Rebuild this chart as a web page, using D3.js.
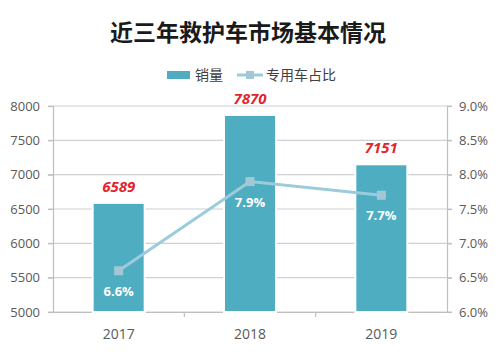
<!DOCTYPE html>
<html><head><meta charset="utf-8">
<script src="https://cdn.jsdelivr.net/npm/d3@7"></script>
<style>body{margin:0;background:#fff}svg{display:block}</style>
</head><body>
<svg id="c" width="500" height="357"></svg>
<script>
const categories = ["2017", "2018", "2019"];
const sales = [6589, 7870, 7151];
const share = [6.6, 7.9, 7.7];
const leftTicks = [5000, 5500, 6000, 6500, 7000, 7500, 8000];
const rightTicks = [6.0, 6.5, 7.0, 7.5, 8.0, 8.5, 9.0];

const svg = d3.select("#c");
const m = {l: 53, r: 447, t: 106, b: 312};
const font = "'Open Sans','Noto Sans CJK SC',sans-serif";
const cjk = "'Noto Sans CJK SC','Noto Sans',sans-serif";

const x = d3.scaleBand().domain(categories).range([m.l, m.r]).paddingInner(0).paddingOuter(0);
const yL = d3.scaleLinear().domain([5000, 8000]).range([m.b, m.t]);
const yR = d3.scaleLinear().domain([6.0, 9.0]).range([m.b, m.t]);

// title
svg.append("text").attr("x", 248).attr("y", 41).attr("text-anchor", "middle")
  .attr("font-family", cjk).attr("font-weight", "bold").attr("font-size", 23)
  .attr("fill", "#1a1a1a").text("近三年救护车市场基本情况");

// legend
const lg = svg.append("g");
lg.append("rect").attr("x", 167).attr("y", 71).attr("width", 23).attr("height", 8).attr("fill", "#4FADC2");
lg.append("text").attr("x", 195).attr("y", 80).attr("font-family", cjk).attr("font-size", 14).attr("fill", "#404040").text("销量");
lg.append("line").attr("x1", 237).attr("x2", 263).attr("y1", 75).attr("y2", 75).attr("stroke", "#9CCBDB").attr("stroke-width", 3);
lg.append("rect").attr("x", 246).attr("y", 71).attr("width", 8).attr("height", 8).attr("fill", "#A3C8D5");
lg.append("text").attr("x", 266).attr("y", 80).attr("font-family", cjk).attr("font-size", 14).attr("fill", "#404040").text("专用车占比");

// grid
svg.append("g").selectAll("line").data(leftTicks).join("line")
  .attr("x1", m.l - 5).attr("x2", m.r + 5)
  .attr("y1", d => yL(d)).attr("y2", d => yL(d))
  .attr("stroke", "#d0d0d0").attr("stroke-width", 1.2);

// axes
const axL = svg.append("g").attr("transform", `translate(${m.l},0)`)
  .call(d3.axisLeft(yL).tickValues(leftTicks).tickSize(5).tickPadding(8).tickFormat(d3.format("d")));
const axR = svg.append("g").attr("transform", `translate(${m.r},0)`)
  .call(d3.axisRight(yR).tickValues(rightTicks).tickSize(5).tickPadding(7).tickFormat(d => d.toFixed(1) + "%"));
const axB = svg.append("g").attr("transform", `translate(0,${m.b})`)
  .call(d3.axisBottom(x).tickSize(0).tickPadding(17));
// category boundary ticks
svg.append("g").selectAll("line").data(categories.slice(1)).join("line")
  .attr("x1", d => x(d)).attr("x2", d => x(d)).attr("y1", m.b).attr("y2", m.b + 5)
  .attr("stroke", "#bfbfbf").attr("stroke-width", 1.2);
[axL, axR, axB].forEach(a => {
  a.selectAll("path.domain").attr("stroke", "#bfbfbf").attr("stroke-width", 1.2);
  a.selectAll(".tick line").attr("stroke", "#bfbfbf").attr("stroke-width", 1.2);
  a.selectAll("text").attr("font-family", font).attr("font-size", 13).attr("fill", "#595959");
});
axB.selectAll("text").attr("font-size", 14);

// bars
const bw = 52;
svg.append("g").selectAll("rect").data(sales).join("rect")
  .attr("x", (d, i) => x(categories[i]) + x.bandwidth() / 2 - bw / 2)
  .attr("y", d => yL(d)).attr("width", bw).attr("height", d => m.b - yL(d))
  .attr("fill", "#4FADC2").attr("stroke", "#ffffff").attr("stroke-width", 2);

// bar labels
svg.append("g").selectAll("text").data(sales).join("text")
  .attr("x", (d, i) => x(categories[i]) + x.bandwidth() / 2)
  .attr("y", d => yL(d) - 11).attr("text-anchor", "middle")
  .attr("font-family", font).attr("font-weight", "bold").attr("font-style", "italic")
  .attr("font-size", 15).attr("fill", "#E2262B").text(d => d);

// line
const cx = i => x(categories[i]) + x.bandwidth() / 2;
svg.append("path").datum(share)
  .attr("d", d3.line().x((d, i) => cx(i)).y(d => yR(d)))
  .attr("fill", "none").attr("stroke", "#9CCBDB").attr("stroke-width", 3);
svg.append("g").selectAll("rect").data(share).join("rect")
  .attr("x", (d, i) => cx(i) - 4.5).attr("y", d => yR(d) - 4.5)
  .attr("width", 9).attr("height", 9).attr("fill", "#A3C8D5");
svg.append("g").selectAll("text").data(share).join("text")
  .attr("x", (d, i) => cx(i)).attr("y", d => yR(d) + 25).attr("text-anchor", "middle")
  .attr("font-family", font).attr("font-weight", "bold").attr("font-size", 13)
  .attr("fill", "#ffffff").text(d => d.toFixed(1) + "%");
</script>
</body></html>
